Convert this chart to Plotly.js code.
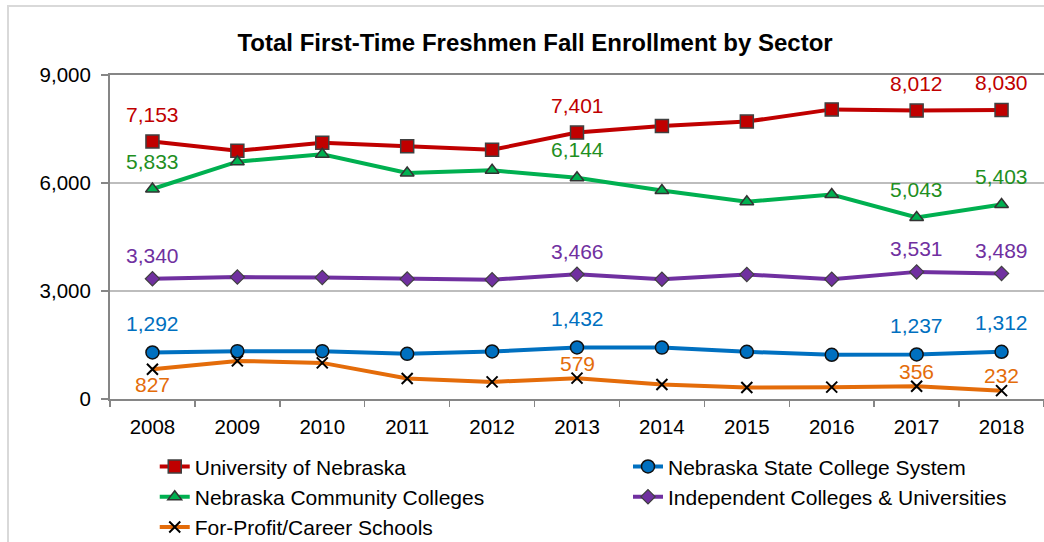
<!DOCTYPE html>
<html>
<head>
<meta charset="utf-8">
<script src="https://cdn.plot.ly/plotly-3.0.1.min.js"></script>
<style>
  html, body { margin: 0; padding: 0; background: #fff; overflow: hidden; }
  #wrap { position: relative; width: 1044px; height: 542px; }
  #chart { position: absolute; left: 0; top: 0; width: 1044px; height: 542px; }
  #frame { position: absolute; left: 7px; top: 5px; width: 1100px; height: 700px;
           border: 2px solid #d9d9d9; pointer-events: none; }
</style>
</head>
<body>
<div id="wrap">
  <div id="chart"></div>
  <div id="frame"></div>
</div>
<script>
const years = ["2008","2009","2010","2011","2012","2013","2014","2015","2016","2017","2018"];

const universityOfNebraska = [7153, 6894, 7116, 7023, 6922, 7401, 7586, 7706, 8045, 8012, 8030];
const stateCollegeSystem   = [1292, 1329, 1329, 1255, 1320, 1432, 1428, 1312, 1228, 1237, 1312];
const communityColleges    = [5833, 6592, 6796, 6277, 6352, 6144, 5792, 5477, 5681, 5043, 5403];
const independentColleges  = [3340, 3386, 3377, 3331, 3312, 3466, 3327, 3460, 3327, 3531, 3489];
const forProfitSchools     = [827, 1058, 1003, 568, 475, 579, 403, 320, 329, 356, 232];

const seriesNames = [
  "University of Nebraska",
  "Nebraska State College System",
  "Nebraska Community Colleges",
  "Independent Colleges & Universities",
  "For-Profit/Career Schools"
];
// years whose values carry a data label
const labelledYears = ["2008", "2013", "2017", "2018"];

const FONT = "Liberation Sans, Arial, sans-serif";

const series = [
  { name: seriesNames[0], y: universityOfNebraska, line: "#c00000", label: "#c00000", legend: "legend",
    marker: { symbol: "square", size: 13, color: "#c00000", line: { color: "#404040", width: 1.5 } }, shift: 27 },
  { name: seriesNames[1], y: stateCollegeSystem, line: "#0070c0", label: "#0070c0", legend: "legend2",
    marker: { symbol: "circle", size: 13, color: "#0070c0", line: { color: "#111", width: 1.5 } }, shift: 29 },
  { name: seriesNames[2], y: communityColleges, line: "#00b050", label: "#1f8f1f", legend: "legend",
    marker: { symbol: "triangle-up", size: 12, color: "#00b050", line: { color: "#333", width: 1.5 } }, shift: 28 },
  { name: seriesNames[3], y: independentColleges, line: "#7030a0", label: "#7030a0", legend: "legend2",
    marker: { symbol: "diamond", size: 11, color: "#7030a0", line: { color: "#404040", width: 1.2 } }, shift: 23 },
  { name: seriesNames[4], y: forProfitSchools, line: "#e46c0a", label: "#e46c0a", legend: "legend",
    marker: { symbol: "x-thin-open", size: 11, color: "#000", line: { color: "#000", width: 2 } }, shift: 15 }
];

const traces = series.map(s => ({
  type: "scatter",
  mode: "lines+markers",
  name: s.name,
  legend: s.legend,
  x: years,
  y: s.y,
  line: { color: s.line, width: 4 },
  marker: s.marker,
  cliponaxis: false,
  hoverinfo: "x+y+name"
}));

const annotations = [];
series.forEach((s, si) => {
  labelledYears.forEach(yr => {
    const i = years.indexOf(yr);
    // For-Profit 2008 label sits below its point
    const below = (si === 4 && yr === "2008");
    annotations.push({
      x: i, y: s.y[i], xref: "x", yref: "y",
      text: s.y[i].toLocaleString("en-US"),
      showarrow: false,
      yshift: below ? -s.shift : s.shift,
      font: { family: FONT, size: 21, color: s.label }
    });
  });
});

const legendCommon = {
  orientation: "v",
  xanchor: "left",
  y: -0.146, yanchor: "top",
  font: { family: FONT, size: 21, color: "#000" },
  bgcolor: "rgba(0,0,0,0)",
  traceorder: "normal"
};

const layout = {
  width: 1044,
  height: 542,
  paper_bgcolor: "#ffffff",
  plot_bgcolor: "#ffffff",
  margin: { l: 110, r: 0, t: 75, b: 143, autoexpand: false },
  font: { family: FONT, size: 20, color: "#000" },
  title: {
    text: "<b>Total First-Time Freshmen Fall Enrollment by Sector</b>",
    font: { family: FONT, size: 24, color: "#000" },
    x: 0.5125, xref: "container", xanchor: "center",
    y: 0.922, yref: "container", yanchor: "middle"
  },
  xaxis: {
    type: "category",
    range: [-0.5, 10.5],
    showline: true, linecolor: "#868686", linewidth: 2,
    mirror: true,
    ticks: "outside", tickson: "boundaries", ticklen: 6, tickcolor: "#868686", tickwidth: 1.5,
    showgrid: false, zeroline: false,
    ticklabelstandoff: 8,
    tickfont: { family: FONT, size: 20.5, color: "#000" }
  },
  yaxis: {
    range: [0, 9000],
    tick0: 0, dtick: 3000,
    tickformat: ",d",
    showline: true, linecolor: "#868686", linewidth: 2,
    ticks: "outside", ticklen: 7, tickcolor: "#868686", tickwidth: 1.5,
    showgrid: true, gridcolor: "#bdbdbd", gridwidth: 1.5,
    zeroline: false,
    ticklabelstandoff: 6,
    tickfont: { family: FONT, size: 20.5, color: "#000" }
  },
  legend: Object.assign({ x: 0.0479 }, legendCommon),
  legend2: Object.assign({ x: 0.5546 }, legendCommon),
  annotations: annotations,
  showlegend: true
};

Plotly.newPlot("chart", traces, layout, { displayModeBar: false, staticPlot: true });
</script>
</body>
</html>
